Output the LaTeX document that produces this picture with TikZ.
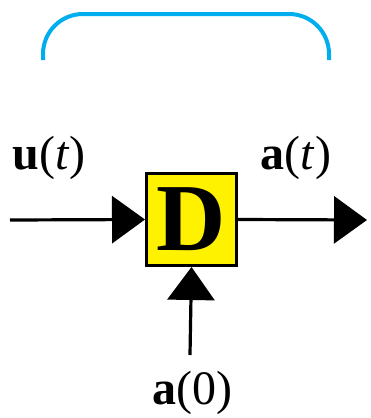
\documentclass[tikz,border=0pt]{standalone}
\usepackage{fontspec}
\setmainfont{Liberation Serif}
\usetikzlibrary{arrows.meta,positioning}
\definecolor{bracketblue}{RGB}{0,174,239}
\definecolor{blockyellow}{RGB}{255,242,0}

\begin{document}
\begin{tikzpicture}[x=1pt,y=-1pt,
    signal/.style={line width=3.2pt,-{Triangle[length=33pt,width=47pt]}},
    block/.style={draw,line width=3pt,fill=blockyellow,minimum width=90pt,
      minimum height=92pt,inner sep=0pt,
      font=\fontsize{96}{96}\selectfont\bfseries},
    sigtext/.style={font=\fontsize{48}{48}\selectfont}]
  \useasboundingbox (0,0) rectangle (371,418);
  % bracket
  \draw[bracketblue,line width=4pt,rounded corners=40pt]
    (43,60) -- (43,14) -- (329,14) -- (329,60);
  % delay block
  \node[block] (dly) at (191.5,219.5) {D};
  \coordinate (uin) at (10,220);
  \coordinate (aout) at (367,220);
  \coordinate (ini) at (190,355);
  \draw[signal] (uin) -- (dly.west);
  \draw[signal] (dly.east) -- (aout);
  \draw[signal] (ini) -- (dly.south);
  % labels
  \node[sigtext] (ulab) at (49,158) {\textbf{u}(\textit{t})};
  \node[sigtext] (alab) at (296,158) {\textbf{a}(\textit{t})};
  \node[sigtext] (a0lab) at (192,393) {\textbf{a}(0)};
\end{tikzpicture}
\end{document}
